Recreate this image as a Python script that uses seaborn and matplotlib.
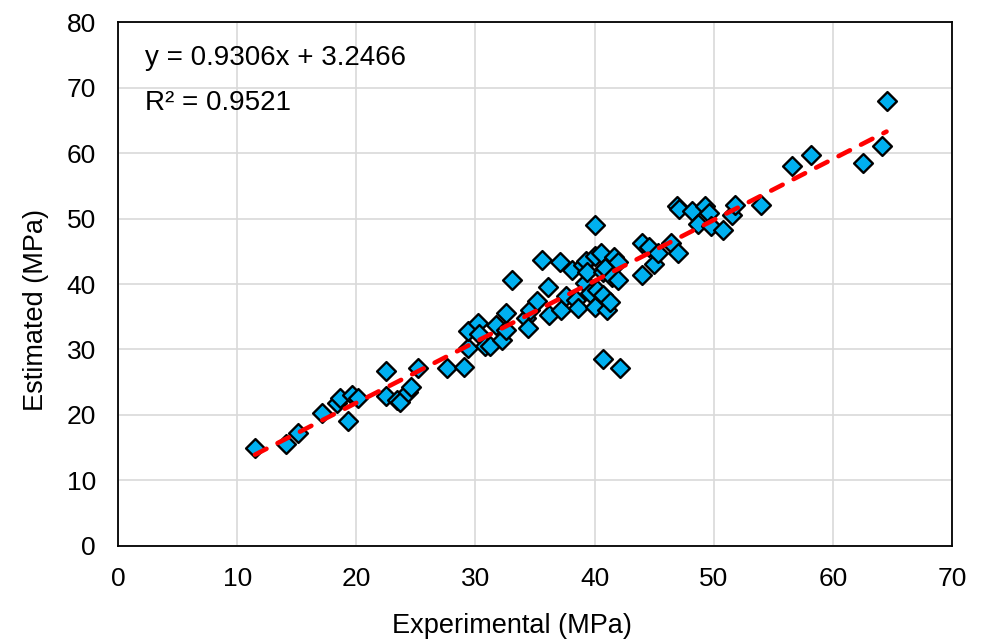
import numpy as np
import pandas as pd
import matplotlib
matplotlib.use("Agg")
import matplotlib.pyplot as plt
import seaborn as sns

# Experimental vs estimated strength (MPa)
experimental = [
    11.5, 14.1, 15.1, 17.1, 18.4, 18.6, 19.3, 19.6, 20.1, 22.5, 22.5, 23.4, 23.7, 24.3, 24.6, 25.2,
    27.6, 29.0, 29.4, 29.4, 30.2, 30.3, 30.8, 31.2, 31.7, 32.2, 32.6, 32.6, 33.1, 34.2, 34.4, 34.6,
    35.2, 35.6,
    36.1, 36.2, 37.1, 37.2, 37.6, 38.1, 38.4, 38.6, 39.0, 39.3, 39.2, 39.4, 39.6, 40.0, 40.0, 40.0,
    40.2, 40.5, 40.7, 40.7, 40.7, 40.9, 41.0, 41.3, 41.5, 41.6, 42.0, 42.0, 42.1,
    44.0, 44.0, 44.6, 45.0, 45.3, 46.4, 46.9, 47.1, 47.0, 48.2, 48.7, 49.3, 49.6, 49.8, 50.8, 51.5,
    51.8, 54.0,
    56.6, 58.2, 62.5, 64.1, 64.5,
]
estimated = [
    15.0, 15.6, 17.3, 20.3, 21.8, 22.6, 19.1, 23.0, 22.6, 26.7, 22.9, 22.3, 22.0, 23.5, 24.2, 27.1,
    27.2, 27.4, 30.3, 32.9, 34.1, 32.3, 30.6, 30.5, 33.8, 31.5, 33.0, 35.5, 40.6, 34.8, 33.3, 36.0,
    37.4, 43.6,
    39.6, 35.2, 43.4, 36.0, 38.2, 42.2, 37.6, 36.4, 42.9, 43.5, 40.1, 41.8, 38.6, 49.0, 44.2, 36.5,
    39.1, 44.8, 38.3, 41.9, 28.6, 42.4, 36.0, 37.3, 41.1, 44.1, 43.3, 40.6, 27.2,
    46.3, 41.3, 45.7, 43.1, 44.7, 46.3, 51.9, 51.5, 44.8, 51.2, 49.1, 51.9, 50.9, 48.8, 48.2, 50.6,
    52.1, 52.0,
    58.0, 59.7, 58.5, 61.1, 68.0,
]

# trendline as printed on the chart
slope = 0.9306
intercept = 3.2466
r_squared = 0.9521

x_ticks = [0, 10, 20, 30, 40, 50, 60, 70]
y_ticks = [0, 10, 20, 30, 40, 50, 60, 70, 80]

df = pd.DataFrame({"Experimental": experimental, "Estimated": estimated})

sns.set_style("white")
plt.rcParams["font.family"] = ["Liberation Sans", "DejaVu Sans"]
plt.rcParams["text.color"] = "black"

fig = plt.figure(figsize=(9.82, 6.44), dpi=100)
ax = fig.add_axes([0.1202, 0.1522, 0.8493, 0.8136])

# gridlines behind everything
ax.set_axisbelow(True)
ax.grid(True, color="#D9D9D9", linewidth=1.2)

sns.scatterplot(data=df, x="Experimental", y="Estimated", ax=ax, marker="D", s=92,
                color="#00B0F0", edgecolor="black", linewidth=1.7, zorder=3, legend=False)

# linear trendline across the data range
x_fit = np.array([min(experimental), max(experimental)])
ax.plot(x_fit, slope * x_fit + intercept, color="#FF0000", linewidth=3.3,
        linestyle=(0, (2.8, 2.7)), dash_capstyle="round", zorder=4)

ax.set_xlim(0, 70)
ax.set_ylim(0, 80)
ax.set_xticks(x_ticks)
ax.set_yticks(y_ticks)
ax.tick_params(axis="both", length=0, labelsize=19, colors="black")
ax.tick_params(axis="x", pad=15)
ax.tick_params(axis="y", pad=16)

for sp in ax.spines.values():
    sp.set_visible(True)
    sp.set_color("black")
    sp.set_linewidth(1.3)

ax.set_xlabel("Experimental (MPa)", fontsize=19.5, color="black")
ax.set_ylabel("Estimated (MPa)", fontsize=19.5, color="black")
ax.xaxis.set_label_coords(0.472, -0.128)
ax.yaxis.set_label_coords(-0.083, 0.45)

ax.text(0.032, 0.918, f"y = {slope}x + {intercept}", transform=ax.transAxes,
        fontsize=20, va="baseline", ha="left", color="black")
ax.text(0.032, 0.832, f"R² = {r_squared}", transform=ax.transAxes,
        fontsize=20, va="baseline", ha="left", color="black")

fig.savefig("out.png", dpi=100)
